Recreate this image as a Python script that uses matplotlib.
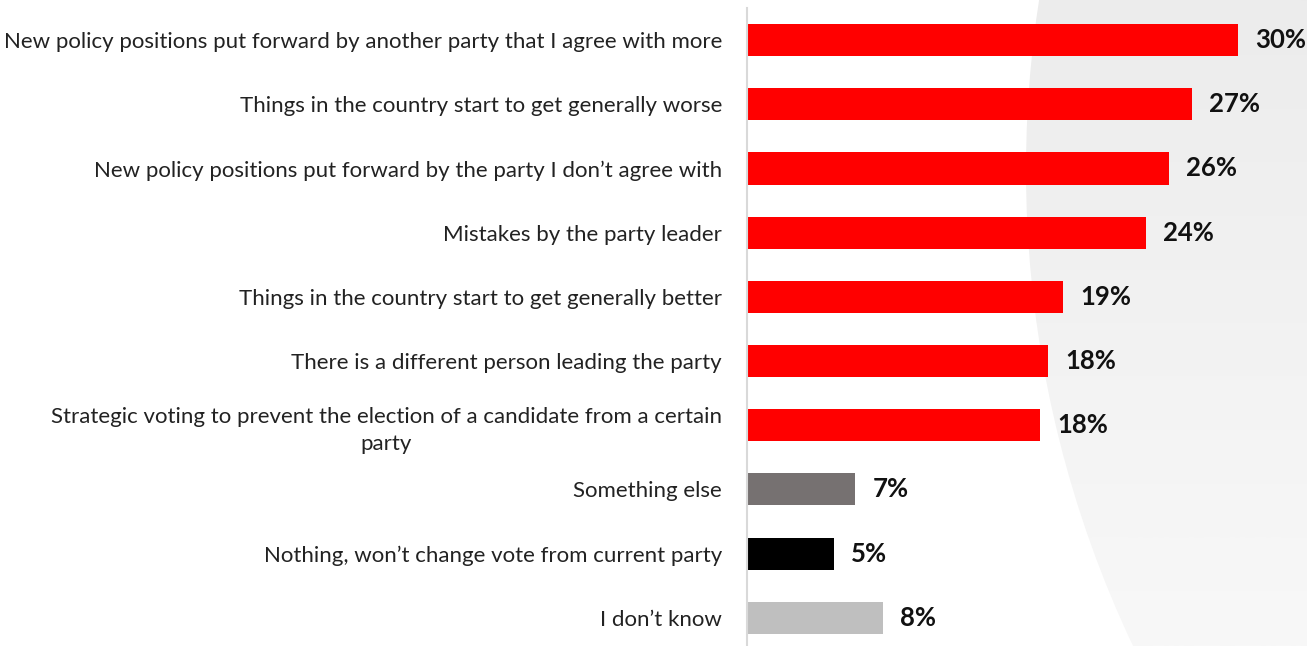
import numpy as np
import matplotlib
matplotlib.use("Agg")
import matplotlib.pyplot as plt
from matplotlib.patches import Circle

# reasons to change vote (share of respondents, %)
categories = [
    "New policy positions put forward by another party that I agree with more",
    "Things in the country start to get generally worse",
    "New policy positions put forward by the party I don\u2019t agree with",
    "Mistakes by the party leader",
    "Things in the country start to get generally better",
    "There is a different person leading the party",
    "Strategic voting to prevent the election of a candidate from a certain\nparty",
    "Something else",
    "Nothing, won\u2019t change vote from current party",
    "I don\u2019t know",
]
values = [30.0, 27.2, 25.8, 24.4, 19.3, 18.4, 17.9, 6.6, 5.3, 8.3]
value_labels = ["30%", "27%", "26%", "24%", "19%", "18%", "18%", "7%", "5%", "8%"]
bar_colors = ["#ff0000"] * 7 + ["#767171", "#000000", "#bfbfbf"]

W, H = 1307, 646
plt.rcParams["font.family"] = ["Lato", "DejaVu Sans"]
fig = plt.figure(figsize=(W / 100, H / 100), dpi=100)

# soft grey disc in the background, right side (pixel coords, y up)
bg = fig.add_axes([0, 0, 1, 1], zorder=-1)
bg.set_xlim(0, W)
bg.set_ylim(0, H)
bg.axis("off")
grad = np.linspace(0, 1, 256).reshape(-1, 1)  # row 0 = bottom with origin lower
cmap = matplotlib.colors.LinearSegmentedColormap.from_list("g", ["#f8f8f8", "#ececec"])
img = bg.imshow(grad, cmap=cmap, extent=[0, W, 0, H], origin="lower", aspect="auto")
disc = Circle((2138, H - 170), 1112, transform=bg.transData)
img.set_clip_path(disc)

ax = fig.add_axes([747 / W, 0, 556 / W, 638 / H])
ax.patch.set_alpha(0)
y = np.arange(len(categories))
ax.barh(y, values, height=0.5, color=bar_colors)
ax.set_xlim(0, 34)
ax.set_ylim(9.44, -0.5)

for yi, v, lab in zip(y, values, value_labels):
    ax.annotate(lab, (v, yi), xytext=(12.5, 0), textcoords="offset points",
                va="center", ha="left", fontsize=18.5, fontweight="bold", color="#111111")

ax.set_yticks(y)
ax.set_yticklabels(categories, fontsize=16, color="#222222",
                   multialignment="center", linespacing=1.45)
ax.tick_params(axis="y", length=0, pad=18)
ax.set_xticks([])
for s in ["top", "right", "bottom"]:
    ax.spines[s].set_visible(False)
ax.spines["left"].set_color("#d9d9d9")
ax.spines["left"].set_linewidth(1.5)

fig.savefig("out.png", dpi=100)
